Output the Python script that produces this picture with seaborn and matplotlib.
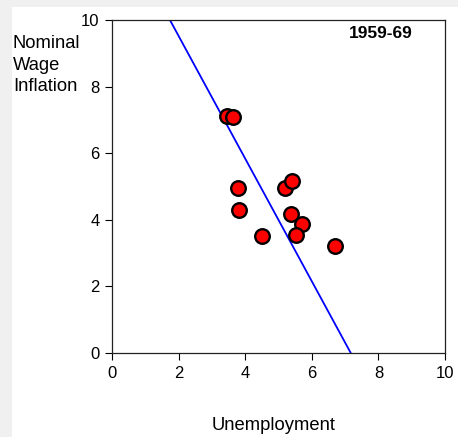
import numpy as np
import pandas as pd
import matplotlib
matplotlib.use("Agg")
import matplotlib.pyplot as plt
from matplotlib.patches import Rectangle
import seaborn as sns

# ── Data ──────────────────────────────────────────────────────
unemployment = [3.44, 3.64, 3.78, 3.80, 4.49, 5.19, 5.40, 5.37, 5.72, 5.52, 6.71]
wage_infl    = [7.11, 7.09, 4.94, 4.29, 3.52, 4.94, 5.16, 4.16, 3.87, 3.54, 3.22]
fit_x        = [1.74, 7.17]
fit_y        = [10.0, 0.0]
ticks        = [0, 2, 4, 6, 8, 10]
period_label = "1959-69"

df  = pd.DataFrame({"u": unemployment, "w": wage_infl})
fit = pd.DataFrame({"u": fit_x, "w": fit_y})

sns.set_style("white")
plt.rcParams["font.family"] = ["Liberation Sans", "DejaVu Sans"]
plt.rcParams["text.color"] = "black"

W, H = 458, 437
fig = plt.figure(figsize=(W / 100, H / 100), dpi=100, facecolor="#f0f0f0")
fig.patches.append(Rectangle((12 / W, 0), 1, 1 - 7 / H, transform=fig.transFigure,
                             facecolor="white", edgecolor="none", zorder=-5))

ax = fig.add_axes([112 / W, 1 - 353 / H, 333 / W, 333 / H])
ax.set_facecolor("white")

sns.lineplot(data=fit, x="u", y="w", ax=ax, color="#0000ff", linewidth=1.3,
             sort=False, zorder=2)
sns.scatterplot(data=df, x="u", y="w", ax=ax, color="#ff0000", edgecolor="black",
                linewidth=1.7, s=110, zorder=3)

ax.set_xlim(0, 10)
ax.set_ylim(0, 10)
ax.set_xticks(ticks)
ax.set_yticks(ticks)
ax.set_xlabel("")
ax.set_ylabel("")
ax.tick_params(axis="both", direction="out", length=5, width=0.8, pad=4,
               labelsize=12, colors="black", bottom=True, left=True)
for sp in ax.spines.values():
    sp.set_visible(True)
    sp.set_color("#222222")
    sp.set_linewidth(0.9)

ax.text(0.904, 0.958, period_label, transform=ax.transAxes, ha="right", va="center",
        fontsize=12.5, fontweight="bold", color="black")

fig.text(13 / W, 1 - 35 / H, "Nominal\nWage\nInflation", ha="left", va="top",
         fontsize=13.2, linespacing=1.35, color="black")
fig.text(274 / W, 1 - 425 / H, "Unemployment", ha="center", va="center",
         fontsize=13.2, color="black")

plt.savefig("out.png", dpi=100, facecolor=fig.get_facecolor())
plt.close()
